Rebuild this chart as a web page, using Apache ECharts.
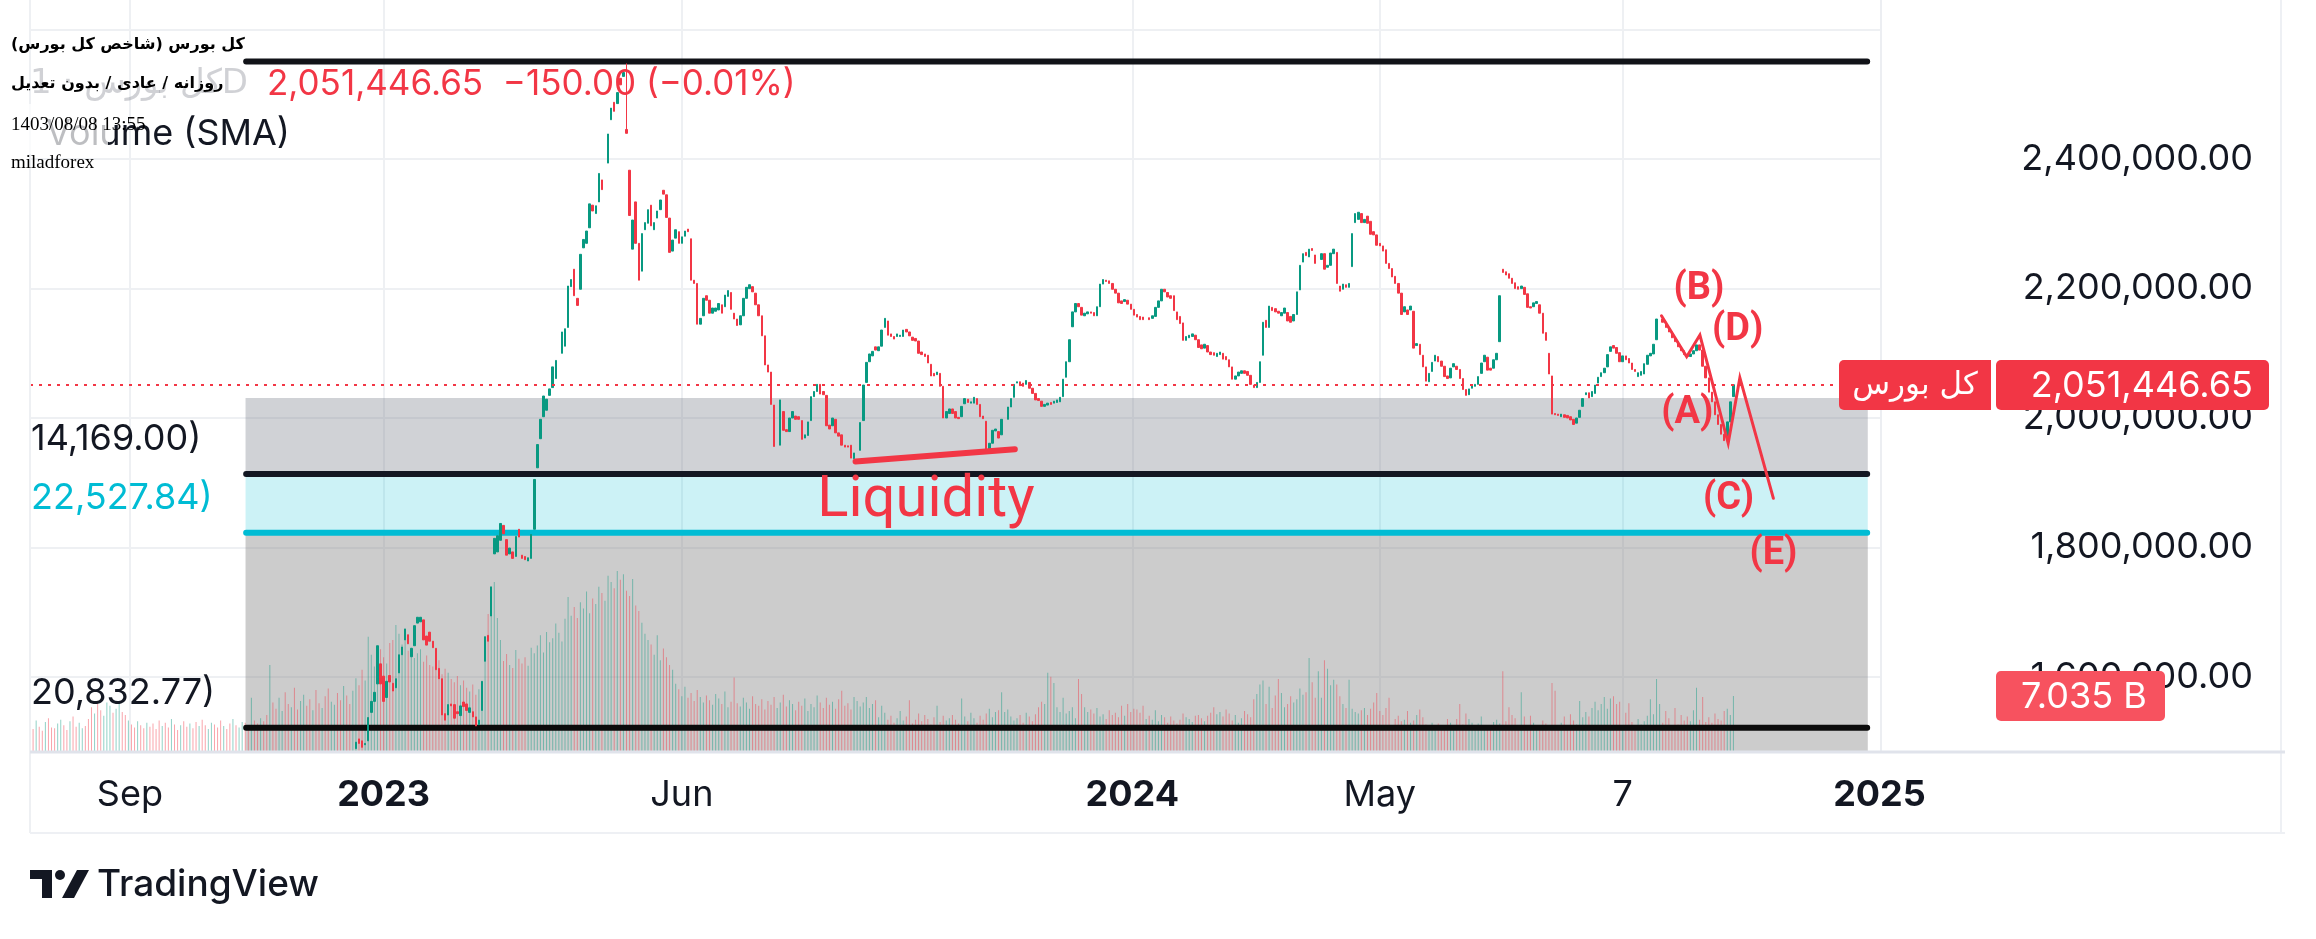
<!DOCTYPE html>
<html><head><meta charset="utf-8">
<script src="https://cdn.jsdelivr.net/npm/echarts@6/dist/echarts.min.js"></script>
<style>html,body{margin:0;padding:0;background:#fff}#c{width:2316px;height:939px}</style>
</head><body><div id="c"></div>
<script>
// ---------------- DATA (prices in thousands, bar index = trading-day slot) ----------------
const FIRST_BAR = 106;
const opens = [
1489,1504,1501,1495,1501,1545,1562,1589,1620,1601,1568,1602,1590,1583,1606,1634,1657,1665,1631,1648,
1683,1685,1688,1663,1669,1655,1644,1613,1597,1543,1541,1558,1557,1546,1540,1561,1558,1545,1546,1538,
1526,1548,1624,1664,1694,1790,1793,1811,1834,1812,1790,1793,1786,1828,1788,1786,1779,1783,1828,1923,
1968,2002,2012,2035,2047,2061,
null,
2100,2111,2140,2203,2230,2185,2199,2263,2270,2294,2329,2316,2334,2368,
null,
2394,2461,2488,2486,2525,2528,2446,2383,2261,2334,2270,2227,2291,2301,2329,2291,2309,2322,2352,2345,
2309,2258,2278,2288,2270,2281,2292,2277,2213,2208,2145,2158,2189,2182,2162,2165,2167,2175,2172,2188,
2194,2162,2153,2144,2158,2185,2200,2203,2193,2175,2158,2127,2082,2071,2020,
null,
1958,2010,1982,1979,2000,2003,2002,1996,1969,1973,1996,2033,2041,2052,2041,2035,1989,1988,1998,1977,
1974,1958,1957,1958,1937,
null,
1950,1996,2055,2087,2096,2110,2104,2111,2140,2150,2130,2126,2126,2126,2126,2137,2133,2125,2123,2119,
2102,2099,2097,2083,2069,2067,2069,2049,2000,2007,2014,2010,2001,2002,2022,2029,2023,2023,2030,2021,
2003,1995,1948,1961,1980,1979,1974,
null,
1998,2017,2032,2054,2056,2054,2052,2055,2046,2038,2030,2026,2018,2020,2024,2023,2024,2025,2033,2063,
2087,2141,2164,2177,2171,2158,2161,2164,2163,2158,2172,2207,2213,2212,2208,2199,2193,2181,2180,2182,
2176,2168,2160,2157,2156,
null,
2155,2154,2157,2171,2181,2199,2194,2189,2189,2164,2157,2147,2120,2124,2126,2128,2121,2113,2108,2112,
2102,2101,2095,2098,2100,2095,2090,2079,2060,2065,2069,2073,2072,2066,2051,2047,2055,2097,2151,2140,
2171,2169,2165,2158,2162,2163,2157,2150,2160,2198,2241,2256,2249,2262,2252,
null,
2245,2254,2233,2236,2254,2256,2204,2199,2206,2202,2234,2302,2307,2316,2302,2312,2304,2288,2283,2270,
2266,2260,2239,2231,2219,2208,2193,2164,2167,2167,2165,2112,2114,2097,
2079,2056,2072,2088,2095,2088,2080,2065,2062,2079,2080,2075,2061,2044,2036,2046,2049,2052,2069,2087,
2094,2077,2077,2090,2118,2230,2226,2223,2216,2209,2203,2200,2202,2192,2172,2172,2177,2175,2162,2132,
2100,2065,2007,2006,2002,2005,2004,2002,1998,1992,2001,2018,2036,2039,2033,2038,2054,2064,2070,2079,
2103,2112,2109,2101,2087,2096,2092,2085,2075,2064,2066,2068,2083,2096,2099,2121,
null,
2153,2148,2140,2133,2124,2118,2110,2104,2098,2095,2099,2104,2113,2105,2080,2062,2040,2025,2005,1990,
1975,1966,1994,2033
];
const closes = [
1499,1497,1491,1497,1537,1562,1576,1648,1589,1562,1593,1592,1578,1597,1634,1646,1674,1651,1644,1679,
1692,1692,1657,1649,1655,1645,1611,1597,1541,1533,1557,1555,1536,1543,1555,1554,1548,1552,1538,1524,
1533,1593,1662,1655,1739,1814,1818,1837,1821,1788,1799,1783,1817,1816,1783,1781,1784,1820,1905,1959,
1998,2034,2029,2045,2079,2089,
null,
2133,2138,2204,2214,2189,2174,2253,2276,2289,2331,2320,2328,2378,2353,
null,
2439,2479,2474,2503,2515,2534,2440,2313,2306,2270,2213,2285,2302,2322,2297,2302,2320,2337,2346,2310,
2256,2275,2291,2270,2280,2289,2288,2213,2208,2145,2154,2185,2182,2162,2170,2170,2177,2162,2190,2197,
2168,2153,2143,2158,2185,2202,2206,2195,2175,2158,2127,2082,2071,2021,1956,
null,
2028,1981,1979,2000,2010,1998,1998,1967,1974,1994,2033,2041,2052,2037,2036,1988,1983,2000,1977,1972,
1958,1955,1955,1938,1946,
null,
1993,2051,2086,2099,2103,2105,2110,2136,2154,2128,2126,2122,2130,2128,2136,2133,2127,2120,2119,2100,
2098,2095,2085,2065,2065,2071,2049,2000,2010,2014,2007,2000,1999,2018,2030,2024,2025,2032,2021,2002,
1999,1948,1961,1981,1983,1969,1998,
null,
2017,2030,2052,2056,2050,2049,2058,2046,2038,2028,2027,2018,2021,2023,2021,2026,2028,2032,2060,2087,
2121,2164,2177,2172,2159,2162,2164,2162,2158,2172,2207,2214,2211,2208,2199,2193,2178,2177,2183,2176,
2168,2159,2156,2152,2152,
null,
2152,2158,2171,2181,2199,2195,2187,2185,2166,2152,2146,2120,2126,2128,2130,2121,2109,2107,2114,2102,
2098,2097,2100,2102,2091,2090,2079,2060,2065,2071,2073,2069,2066,2052,2047,2055,2087,2148,2140,2173,
2166,2164,2162,2163,2170,2150,2148,2160,2195,2236,2254,2251,2261,2259,2239,
null,
2254,2230,2236,2255,2261,2208,2196,2207,2202,2208,2285,2316,2318,2302,2307,2301,2284,2283,2267,2266,
2258,2239,2231,2218,2208,2193,2160,2172,2160,2173,2108,2115,2098,2079,
2057,2069,2086,2097,2087,2080,2064,2061,2077,2084,2075,2061,2044,2035,2045,2050,2052,2064,2085,2097,
2074,2074,2090,2100,2189,2225,2221,2216,2208,2200,2199,2204,2191,2171,2170,2178,2180,2162,2131,2120,
2068,2006,2005,2004,2006,2001,2000,1997,1990,2000,2012,2030,2039,2031,2041,2051,2063,2070,2077,2098,
2110,2108,2100,2087,2096,2090,2085,2075,2072,2070,2072,2084,2097,2100,2114,2153,
null,
2148,2140,2133,2124,2118,2110,2104,2098,2095,2099,2104,2113,2105,2080,2062,2040,2025,2005,1990,1975,
1965,1994,2025,2051.44665
];
const wickHighs = {194: 2548};          // long upper wick at the top
// volume in billions, one per bar from bar 0
const volumes = [
3.4,2.8,3.9,3.1,2.6,3.7,4.2,3.0,2.9,3.5, 4.0,3.3,2.7,3.8,4.4,3.1,3.6,2.9,3.2,4.1,
5.6,4.8,6.0,5.2,4.5,6.2,5.8,4.9,5.4,6.1, 5.0,4.6,3.9,3.4,3.0,3.8,3.3,2.9,3.6,3.1,
3.5,2.8,3.9,3.2,3.6,3.0,4.1,3.4,2.7,3.3, 3.8,3.1,3.5,2.9,3.7,3.2,4.0,3.3,2.8,3.6,
3.4,3.0,3.9,3.2,2.8,3.5,4.1,3.3,3.0,3.7, 3.6,3.2,6.8,3.9,3.5,4.2,3.8,4.6,11.0,6.2,
5.4,6.8,5.1,7.5,6.0,5.6,8.1,5.3,6.4,7.2, 5.8,6.6,5.2,7.8,6.1,5.5,7.0,8.0,6.3,5.9,
7.4,6.5,8.3,7.1,6.0,7.7,9.3,8.4,10.4,9.0, 14.6,12.3,10.8,11.5,13.0,12.0,11.2,13.8,14.2,16.1,
15.0,13.6,14.5,12.8,13.2,11.9,12.5,13.0,11.4,12.2, 11.0,10.8,12.4,11.6,9.8,10.5,10.0,9.2,8.8,9.6,
8.4,9.0,8.1,7.6,8.5,7.2,7.9,7.4,12.0,17.5, 20.0,21.6,17.0,14.2,11.5,12.4,11.0,10.6,12.9,11.8,
11.2,12.0,10.9,13.2,12.5,13.5,14.8,12.6,15.2,13.9, 14.4,16.3,15.1,14.0,16.9,19.7,17.3,18.4,17.0,19.0,
18.2,20.4,17.6,19.5,18.8,21.0,20.2,19.2,22.4,21.6, 20.8,23.0,21.9,22.6,20.5,19.8,22.0,18.6,17.9,16.4,
15.0,14.2,13.6,12.3,14.8,11.6,13.1,12.0,11.0,10.4, 8.6,7.9,7.0,8.2,6.8,7.4,6.4,7.8,6.9,6.2,
7.1,6.5,5.9,7.3,6.7,6.0,7.6,5.6,6.3,9.4, 6.1,5.7,6.8,6.2,5.4,7.0,6.0,5.8,6.6,5.3,
6.4,5.9,6.9,5.5,6.2,7.2,5.7,6.5,6.0,5.2, 6.3,5.8,6.7,5.1,6.0,5.6,7.1,6.2,5.5,6.8,
5.9,6.3,5.4,6.6,7.7,5.8,6.1,5.3,6.9,6.4, 5.7,6.2,6.9,5.5,6.0,6.5,4.3,5.8,4.9,4.0,
4.5,3.6,4.2,5.1,3.9,4.4,6.5,3.5,4.0,4.8, 3.8,4.6,4.1,3.4,4.3,5.8,3.7,4.5,3.9,4.2,
4.6,4.0,3.5,6.7,4.4,3.8,4.9,4.2,3.6,4.5, 4.0,4.8,5.4,4.3,5.0,5.2,7.5,5.0,5.3,4.4,
3.9,4.2,4.6,3.6,4.9,4.4,3.8,4.7,5.6,6.3, 6.0,10.0,9.5,8.7,5.6,5.0,6.8,4.8,5.1,5.6,
4.2,9.2,7.3,5.6,5.0,5.3,4.8,5.5,4.4,4.7, 4.1,5.2,4.6,4.9,4.3,5.8,4.5,6.0,5.0,5.4,
5.3,4.9,5.8,4.1,4.5,4.0,5.2,3.8,4.6,4.3, 3.6,4.4,3.9,3.5,4.0,4.8,4.3,4.1,3.7,4.5,
4.6,4.2,3.8,4.5,4.9,5.6,4.7,5.0,4.4,5.3, 4.8,3.9,4.6,3.6,4.2,5.1,4.7,4.3,6.6,7.3,
8.5,9.0,6.0,8.2,5.5,7.1,9.2,7.4,5.6,6.0, 7.0,6.2,6.6,8.0,7.2,7.5,11.9,8.8,6.8,10.2,
6.8,11.6,10.5,8.4,9.1,8.5,7.0,6.0,5.5,9.1, 5.4,5.0,4.8,5.2,5.5,4.6,5.4,6.2,7.4,5.1,
4.6,5.5,6.8,3.3,4.1,4.5,3.8,4.0,5.1,3.6, 3.9,4.6,5.3,4.3,3.4,3.0,3.6,3.2,3.5,3.0,
3.3,4.1,3.6,3.2,4.1,6.0,3.4,4.8,4.1,3.6, 2.9,3.5,4.4,3.1,2.9,3.3,3.7,4.0,3.5,10.2,
3.8,5.6,4.6,4.2,3.3,7.5,4.4,3.1,4.5,3.6, 3.0,2.8,3.9,3.5,2.6,8.7,7.7,3.1,3.6,4.4,
3.2,4.7,3.9,3.4,6.4,4.3,5.0,4.4,5.5,6.3, 5.2,6.0,6.9,5.4,6.7,7.0,6.0,6.3,2.9,4.9,
6.1,3.7,3.0,4.1,3.4,3.8,4.5,6.6,4.7,9.2, 6.0,3.6,5.1,4.2,3.0,5.5,3.4,4.6,3.9,4.4,
3.8,5.2,8.1,4.0,6.9,3.7,4.3,3.6,4.8,4.1, 3.9,5.1,5.4,4.6,7.035
];
// up(u)/down(d) for bars before the first visible candle
const earlyDirs = "ddudduddduuddudduudddudduuuduudduddudduddddudduddudduddudduudddudduduuddudduddudduuddudduudduddudduudduddudd";
const tickPos = [32.5, 115, 212, 358.5, 439, 518, 601.5];
const tickLabels = ['Sep', '2023', 'Jun', '2024', 'May', '7', '2025'];
const yTicks = [1600000, 1800000, 2000000, 2200000, 2400000];
const yGrid = [1600000, 1800000, 2000000, 2200000, 2400000, 2600000];
const lastPrice = 2051446.65;
// drawings (bar index / price)
const zoneX = [70.1, 597.7];
const grayTop = 2031000, blackMid = 1913500, cyanLvl = 1822700, topLvl = 2551000, lowLvl = 1521300;
const trendLine = [[268.5, 1932800], [320.3, 1951600]];
const waveLine = [[530.6, 2158100], [538.8, 2094700], [543.1, 2128300], [552.3, 1960900], [556.1, 2062300], [567.0, 1875900]];
const waveLabels = [['(B)', 542.8, 2199400], ['(D)', 555.4, 2134500], ['(A)', 539.0, 2006200], ['(C)', 552.4, 1873300], ['(E)', 567.0, 1789000]];
const liquidityLabel = ['Liquidity', 291.4, 1870200];

// ---------------- BUILD ----------------
const FONT = 'Inter, "Noto Sans", sans-serif';
const UP = '#089981', DN = '#f23645';
const candleData = [];
opens.forEach((o, k) => {
  if (o == null) return;
  const i = FIRST_BAR + k, c = closes[k];
  const hi = wickHighs[i] != null ? wickHighs[i] : Math.max(o, c);
  candleData.push([i, o * 1000, c * 1000, Math.min(o, c) * 1000, hi * 1000]);
});
const volData = volumes.map((v, i) => {
  const k = i - FIRST_BAR; let up;
  if (k < 0) up = earlyDirs[i] === 'u';
  else if (opens[k] != null) up = closes[k] >= opens[k];
  else up = true;
  return {value: [i, v], itemStyle: {color: up ? 'rgba(8,153,129,0.45)' : 'rgba(242,54,69,0.45)'}};
});
const levelSeries = [[topLvl, '#111318'], [blackMid, '#131722'], [cyanLvl, '#00bcd4'], [lowLvl, '#0b0b0b']].map(([p, col]) => ({
  type: 'line', z: 3, silent: true, symbol: 'none', animation: false,
  data: [[zoneX[0] + 0.2, p], [zoneX[1] - 0.2, p]],
  lineStyle: {color: col, width: 6, cap: 'round'}
}));
const labelBase = {show: true, position: 'inside', formatter: p => p.name, color: DN, opacity: 1, textBorderWidth: 0, textBorderColor: 'transparent', textShadowBlur: 0, fontFamily: 'Roboto, sans-serif'};

const chart = echarts.init(document.getElementById('c'), null, {renderer: 'canvas', width: 2316, height: 939});
const option = {
  animation: false,
  backgroundColor: '#ffffff',
  grid: {left: 30, right: 435, top: 0, bottom: 188},
  xAxis: {
    type: 'value', min: 0, max: 602,
    axisLine: {show: false}, axisTick: {show: false}, splitLine: {show: false},
    axisLabel: {
      customValues: tickPos, margin: 26, fontSize: 36, color: '#131722', fontFamily: FONT,
      formatter: v => { const j = tickPos.findIndex(p => Math.abs(p - v) < 0.01); const t = tickLabels[j] || ''; return /^\d{4}$/.test(t) ? '{b|' + t + '}' : t; },
      rich: {b: {fontWeight: 'bold', fontSize: 36, color: '#131722', fontFamily: FONT}}
    }
  },
  yAxis: [{
    type: 'value', position: 'right', min: 1485300, max: 2646100,
    axisLine: {show: false}, axisTick: {show: false}, splitLine: {show: false},
    axisLabel: {customValues: yTicks, align: 'right', margin: 372, fontSize: 36, color: '#131722', fontFamily: FONT,
      formatter: v => v.toLocaleString('en-US', {minimumFractionDigits: 2, maximumFractionDigits: 2})}
  }, {type: 'value', min: 0, max: 96, show: false}],
  series: [
    {type: 'line', z: 0, silent: true, symbol: 'none', data: [[0, 2000000], [1, 2000000]], lineStyle: {opacity: 0},
     markLine: {z: 0, silent: true, symbol: ['none', 'none'], label: {show: false}, animation: false,
       lineStyle: {color: '#eef0f3', width: 2, type: 'solid'},
       data: [...yGrid.map(v => ({yAxis: v})), ...tickPos.slice(0, 6).map(v => ({xAxis: v}))]}},
    {type: 'line', z: 1, silent: true, symbol: 'none', data: [[0, 2000000], [1, 2000000]], lineStyle: {opacity: 0},
     markArea: {z: 1, silent: true, animation: false, data: [
       [{xAxis: zoneX[0], yAxis: grayTop, itemStyle: {color: 'rgba(118,124,136,0.34)'}}, {xAxis: zoneX[1], yAxis: blackMid}],
       [{xAxis: zoneX[0], yAxis: blackMid, itemStyle: {color: 'rgba(0,188,212,0.2)'}}, {xAxis: zoneX[1], yAxis: cyanLvl}],
       [{xAxis: zoneX[0], yAxis: cyanLvl, itemStyle: {color: 'rgba(128,128,128,0.40)'}}, {xAxis: zoneX[1], yAxis: 1485300}]
     ]}},
    {type: 'bar', z: 2, yAxisIndex: 1, barWidth: 1, silent: true, data: volData},
    ...levelSeries,
    {type: 'candlestick', z: 4, barWidth: 2, silent: true, data: candleData, encode: {x: 0, y: [1, 2, 3, 4]},
     itemStyle: {color: UP, color0: DN, borderColor: UP, borderColor0: DN, borderWidth: 1},
     markLine: {z: 5, silent: true, symbol: ['none', 'none'], label: {show: false}, animation: false,
       lineStyle: {color: DN, width: 2, type: [3, 6]}, data: [{yAxis: lastPrice}]}},
    {type: 'line', z: 5, silent: true, symbol: 'none', data: trendLine, lineStyle: {color: DN, width: 6, cap: 'round'}},
    {type: 'line', z: 5, silent: true, symbol: 'none', data: waveLine, lineStyle: {color: DN, width: 3, cap: 'round', join: 'miter'}},
    {type: 'scatter', z: 6, silent: true, symbolSize: 0, itemStyle: {opacity: 1},
     data: waveLabels.map(([t, x, y]) => ({name: t, value: [x, y]})),
     label: Object.assign({}, labelBase, {fontSize: 38, fontWeight: 'bold'})},
    {type: 'scatter', z: 6, silent: true, symbolSize: 0, itemStyle: {opacity: 1},
     data: [{name: liquidityLabel[0], value: [liquidityLabel[1], liquidityLabel[2]]}],
     label: Object.assign({}, labelBase, {fontSize: 58, fontWeight: 'normal'})}
  ],
  graphic: {elements: [
    // frame & separators
    {type: 'line', z: 50, shape: {x1: 30, y1: 0, x2: 30, y2: 833}, style: {stroke: '#eef0f3', lineWidth: 2}},
    {type: 'line', z: 50, shape: {x1: 1881, y1: 0, x2: 1881, y2: 751}, style: {stroke: '#eceef2', lineWidth: 2}},
    {type: 'line', z: 50, shape: {x1: 2281, y1: 0, x2: 2281, y2: 833}, style: {stroke: '#eef0f4', lineWidth: 2}},
    {type: 'line', z: 50, shape: {x1: 30, y1: 752, x2: 2285, y2: 752}, style: {stroke: '#e0e3eb', lineWidth: 3}},
    {type: 'line', z: 50, shape: {x1: 30, y1: 833, x2: 2285, y2: 833}, style: {stroke: '#eef0f4', lineWidth: 2}},
    // price labels
    {type: 'rect', z: 60, shape: {x: 1839, y: 360, width: 152, height: 50, r: [5, 0, 0, 5]}, style: {fill: DN}},
    {type: 'text', z: 61, x: 1915, y: 386, style: {text: 'کل بورس', fill: '#fff', fontSize: 31, fontFamily: '"DejaVu Sans", sans-serif', align: 'center', verticalAlign: 'middle'}},
    {type: 'rect', z: 60, shape: {x: 1996, y: 360, width: 273, height: 50, r: 5}, style: {fill: DN}},
    {type: 'text', z: 61, x: 2253, y: 386, style: {text: '2,051,446.65', fill: '#fff', fontSize: 36, fontFamily: FONT, align: 'right', verticalAlign: 'middle'}},
    {type: 'rect', z: 60, shape: {x: 1996, y: 671, width: 169, height: 50, r: 5}, style: {fill: '#f7525f'}},
    {type: 'text', z: 61, x: 2021, y: 697, style: {text: '7.035 B', fill: '#fff', fontSize: 36, fontFamily: FONT, align: 'left', verticalAlign: 'middle'}},
    // legend
    {type: 'text', z: 60, x: 267, y: 84, style: {text: '2,051,446.65  −150.00 (−0.01%)', fill: DN, fontSize: 35, fontFamily: FONT, align: 'left', verticalAlign: 'middle'}},
    {type: 'text', z: 60, x: 248, y: 84, style: {text: 'کل بورس · 1D', fill: 'rgba(120,123,134,0.35)', fontSize: 34, fontFamily: '"DejaVu Sans", ' + FONT, align: 'right', verticalAlign: 'middle'}},
    {type: 'text', z: 60, x: 290, y: 134, style: {text: 'Volume (SMA)', fill: '#131722', fontSize: 36, fontFamily: FONT, align: 'right', verticalAlign: 'middle'}},
    {type: 'rect', z: 62, shape: {x: 0, y: 104, width: 108, height: 50}, style: {fill: 'rgba(255,255,255,0.72)'}},
    {type: 'text', z: 60, x: 31, y: 439, style: {text: '14,169.00)', fill: '#131722', fontSize: 36, fontFamily: FONT, align: 'left', verticalAlign: 'middle'}},
    {type: 'text', z: 60, x: 31, y: 498, style: {text: '22,527.84)', fill: '#00bcd4', fontSize: 36, fontFamily: FONT, align: 'left', verticalAlign: 'middle'}},
    {type: 'text', z: 60, x: 31, y: 693, style: {text: '20,832.77)', fill: '#131722', fontSize: 36, fontFamily: FONT, align: 'left', verticalAlign: 'middle'}},
    // watermark
    {type: 'text', z: 63, x: 11, y: 45, style: {text: 'کل بورس (شاخص کل بورس)', fill: '#000', fontSize: 16, fontWeight: 'bold', fontFamily: '"DejaVu Sans", serif', align: 'left', verticalAlign: 'middle'}},
    {type: 'text', z: 63, x: 11, y: 84, style: {text: 'روزانه / عادی / بدون تعدیل', fill: '#000', fontSize: 16, fontWeight: 'bold', fontFamily: '"DejaVu Sans", serif', align: 'left', verticalAlign: 'middle'}},
    {type: 'text', z: 63, x: 11, y: 125, style: {text: '1403/08/08 13:55', fill: '#000', fontSize: 19, fontFamily: '"Liberation Serif", serif', align: 'left', verticalAlign: 'middle'}},
    {type: 'text', z: 63, x: 11, y: 163, style: {text: 'miladforex', fill: '#000', fontSize: 19, fontFamily: '"Liberation Serif", serif', align: 'left', verticalAlign: 'middle'}},
    // TradingView logo
    {type: 'rect', z: 60, shape: {x: 30, y: 870, width: 22, height: 9}, style: {fill: '#131722'}},
    {type: 'rect', z: 60, shape: {x: 42, y: 870, width: 10, height: 28}, style: {fill: '#131722'}},
    {type: 'circle', z: 60, shape: {cx: 60, cy: 875, r: 5}, style: {fill: '#131722'}},
    {type: 'polygon', z: 60, shape: {points: [[62, 898], [74, 898], [89, 870], [77, 870]]}, style: {fill: '#131722'}},
    {type: 'text', z: 60, x: 97, y: 885, style: {text: 'TradingView', fill: '#131722', fontSize: 37, fontWeight: 500, fontFamily: FONT, align: 'left', verticalAlign: 'middle'}}
  ]}
};
chart.setOption(option);
</script>
</body></html>
